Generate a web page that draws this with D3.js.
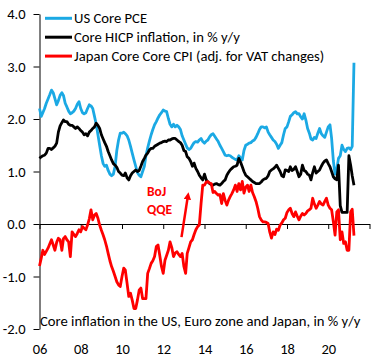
<!DOCTYPE html>
<html lang="en">
<head>
	<meta charset="UTF-8">
	<title>Core inflation US / Euro zone / Japan</title>
	<script src="https://cdn.jsdelivr.net/npm/d3@7/dist/d3.min.js"></script>
	<style>
		body { margin: 0; background: #fff; }
		svg text { font-family: Carlito, Calibri, Lato, sans-serif; fill: #000; }
	</style>
</head>
<body>
	<svg id="chart" width="384" height="360"></svg>
<script>
// monthly, Jan 2006 .. Apr 2021
var startMonth = new Date(2006, 0, 1);

var usCorePce = [
	2.20, 2.05, 2.12, 2.20, 2.30, 2.38, 2.46, 2.55, 2.50, 2.39, 2.27, 2.35,
	2.45, 2.50, 2.45, 2.30, 2.23, 2.15, 2.10, 2.12, 2.15, 2.20, 2.28, 2.33,
	2.20, 2.12, 2.10, 2.12, 2.20, 2.27, 2.25, 2.20, 2.05, 1.90, 1.70, 1.50,
	1.30, 1.15, 1.10, 1.12, 1.02, 0.95, 0.92, 0.95, 1.10, 1.40, 1.60, 1.73,
	1.73, 1.75, 1.72, 1.68, 1.60, 1.48, 1.35, 1.22, 1.10, 0.98, 0.93, 0.90,
	1.00, 1.10, 1.30, 1.45, 1.58, 1.70, 1.80, 1.89, 1.95, 2.02, 2.08, 2.12,
	2.17, 2.15, 2.14, 2.01, 1.90, 1.85, 1.90, 1.85, 1.88, 1.85, 1.80, 1.68,
	1.60, 1.52, 1.45, 1.42, 1.44, 1.50, 1.55, 1.57, 1.56, 1.60, 1.63, 1.57,
	1.54, 1.58, 1.60, 1.66, 1.70, 1.72, 1.67, 1.62, 1.57, 1.50, 1.44, 1.38,
	1.31, 1.30, 1.31, 1.30, 1.27, 1.25, 1.23, 1.22, 1.30, 1.26, 1.22, 1.40,
	1.50, 1.52, 1.54, 1.55, 1.58, 1.60, 1.65, 1.72, 1.80, 1.85, 1.85, 1.83,
	1.85, 1.75, 1.70, 1.65, 1.60, 1.57, 1.52, 1.44, 1.50, 1.55, 1.70, 1.82,
	1.85, 1.95, 2.05, 2.08, 2.12, 2.14, 2.10, 2.10, 2.04, 2.00, 2.10, 1.98,
	1.82, 1.73, 1.62, 1.60, 1.65, 1.63, 1.73, 1.82, 1.72, 1.68, 1.65, 1.75,
	1.85, 1.89, 1.63, 1.20, 0.95, 1.05, 1.25, 1.30, 1.50, 1.42, 1.38, 1.44,
	1.45, 1.42, 1.48, 3.07
];

var coreHicp = [
	1.25, 1.28, 1.30, 1.31, 1.35, 1.44, 1.44, 1.42, 1.45, 1.48, 1.54, 1.75,
	1.87, 1.93, 1.98, 1.95, 1.95, 1.90, 1.88, 1.88, 1.85, 1.82, 1.85, 1.82,
	1.78, 1.75, 1.70, 1.72, 1.68, 1.75, 1.78, 1.82, 1.85, 1.92, 1.88, 1.82,
	1.70, 1.62, 1.55, 1.48, 1.38, 1.30, 1.22, 1.15, 1.12, 1.08, 1.00, 0.97,
	0.93, 0.92, 0.97, 0.88, 0.84, 0.92, 0.97, 1.00, 1.03, 1.00, 1.02, 1.10,
	1.19, 1.25, 1.31, 1.35, 1.41, 1.44, 1.44, 1.48, 1.50, 1.52, 1.54, 1.55,
	1.57, 1.58, 1.57, 1.60, 1.60, 1.62, 1.63, 1.63, 1.60, 1.57, 1.55, 1.50,
	1.40, 1.38, 1.28, 1.25, 1.19, 1.10, 1.16, 1.06, 1.00, 0.93, 0.88, 0.84,
	0.95, 0.84, 0.80, 0.77, 0.75, 0.74, 0.76, 0.77, 0.75, 0.74, 0.77, 0.81,
	0.84, 0.93, 0.98, 1.03, 1.06, 1.09, 1.10, 1.12, 1.25, 1.18, 1.09, 1.00,
	0.93, 0.90, 0.87, 0.84, 0.81, 0.79, 0.77, 0.77, 0.77, 0.80, 0.84, 0.86,
	0.87, 0.92, 1.00, 1.03, 1.05, 1.08, 1.12, 1.06, 1.00, 0.92, 0.90, 1.03,
	1.02, 1.00, 1.09, 1.02, 1.04, 1.09, 1.00, 0.90, 0.95, 1.12, 1.02, 1.00,
	0.95, 0.93, 0.84, 0.98, 1.09, 0.97, 1.00, 1.03, 1.10, 1.16, 1.20, 1.22,
	1.15, 1.09, 1.00, 0.90, 0.86, 0.84, 1.12, 0.35, 0.22, 0.22, 0.22, 0.22,
	1.30, 1.12, 0.92, 0.74
];

var japanCoreCore = [
	-0.80, -0.65, -0.50, -0.58, -0.52, -0.46, -0.38, -0.30, -0.40, -0.50, -0.35, -0.27,
	-0.30, -0.50, -0.28, -0.24, -0.30, -0.34, -0.62, -0.15, -0.20, -0.24, -0.18, -0.11,
	-0.15, -0.05, -0.08, -0.11, -0.02, 0.10, 0.27, 0.08, 0.17, 0.20, 0.11, -0.02,
	-0.12, -0.21, -0.30, -0.42, -0.56, -0.70, -0.81, -0.90, -1.00, -1.10, -1.16, -1.19,
	-1.00, -0.84, -0.88, -1.13, -1.38, -1.32, -1.45, -1.61, -1.61, -1.45, -1.26, -1.22,
	-1.42, -1.42, -1.42, -0.94, -0.85, -0.75, -0.70, -0.62, -0.43, -0.40, -0.60, -0.81,
	-0.94, -0.69, -0.60, -0.50, -0.34, -0.45, -0.62, -0.55, -0.53, -0.58, -0.62, -0.56,
	-0.81, -0.94, -0.56, -0.45, -0.34, -0.30, -0.20, -0.11, -0.05, -0.02, 0.39, 0.74,
	0.74, 0.80, 0.81, 0.78, 0.77, 0.60, 0.62, 0.58, 0.55, 0.56, 0.39, 0.58,
	0.45, 0.36, 0.45, 0.52, 0.58, 0.65, 0.74, 0.62, 0.77, 0.65, 0.81, 0.59,
	0.70, 0.74, 0.62, 0.74, 0.60, 0.52, 0.43, 0.30, 0.14, 0.08, 0.04, 0.04,
	0.03, 0.01, -0.15, -0.27, -0.15, -0.20, -0.10, -0.12, -0.02, 0.02, 0.08, 0.11,
	0.22, 0.27, 0.30, 0.20, 0.14, 0.23, 0.15, 0.08, 0.15, 0.20, 0.17, 0.20,
	0.25, 0.27, 0.30, 0.49, 0.38, 0.30, 0.36, 0.43, 0.38, 0.36, 0.43, 0.49,
	0.36, 0.30, 0.27, 0.04, -0.21, 0.23, 0.27, -0.30, -0.15, -0.37, -0.34, -0.50,
	-0.50, 0.23, 0.28, -0.22
];

var seriesNames = ["US Core PCE", "Core HICP inflation, in % y/y", "Japan Core Core CPI (adj. for VAT changes)"];
var seriesColors = ["#1BA9E4", "#000000", "#FF0000"];
var yTicks = [-2, -1, 0, 1, 2, 3, 4];
var footnote = "Core inflation in the US, Euro zone and Japan, in % y/y";

// annotation, in data units: [date, value]
var qqeLabel = ["BoJ", "QQE"];
var qqeArrow = [[new Date(2012, 10, 20), -0.25], [new Date(2013, 2, 5), 0.48]];

var svg = d3.select("#chart");

var x = d3.scaleTime()
	.domain([new Date(2006, 0, 1), new Date(2022, 0, 1)])
	.range([39.5, 369.5]);
var y = d3.scaleLinear()
	.domain([-2, 4])
	.range([329, 14]);

function toRows(vals) {
	return vals.map(function(v, i) {
		return { date: d3.timeMonth.offset(startMonth, i), value: v };
	});
}
var series = [toRows(usCorePce), toRows(coreHicp), toRows(japanCoreCore)];

// y axis
var yAxis = svg.append("g")
	.attr("transform", "translate(39.5,0)")
	.call(d3.axisLeft(y)
		.tickValues(yTicks)
		.tickFormat(function(d){ return d.toFixed(1); })
		.tickSize(6)
		.tickSizeOuter(0)
		.tickPadding(8));
yAxis.selectAll("text").attr("font-size", 14.5).attr("font-family", null);

// x axis at zero, ticks only
svg.append("g")
	.attr("transform", "translate(0," + y(0) + ")")
	.call(d3.axisBottom(x)
		.ticks(d3.timeYear.every(2))
		.tickSize(5)
		.tickSizeOuter(0)
		.tickFormat(""));

// year labels at the bottom
var xLabels = svg.append("g")
	.attr("transform", "translate(0,339)")
	.call(d3.axisBottom(x)
		.tickValues(d3.timeYear.every(2).range(new Date(2006, 0, 1), new Date(2021, 0, 2)))
		.tickSize(0)
		.tickPadding(5)
		.tickFormat(d3.timeFormat("%y")));
xLabels.select(".domain").remove();
xLabels.selectAll("text").attr("font-size", 14.5).attr("font-family", null);

svg.selectAll(".domain, .tick line").attr("stroke", "#000");

// lines
var line = d3.line()
	.x(function(d){ return x(d.date); })
	.y(function(d){ return y(d.value); });

svg.selectAll(".series")
	.data(series)
	.enter()
	.append("path")
	.attr("class", "series")
	.attr("fill", "none")
	.attr("stroke", function(d, i){ return seriesColors[i]; })
	.attr("stroke-width", 2.8)
	.attr("stroke-linejoin", "round")
	.attr("d", line);

// legend
var legend = svg.selectAll(".legend")
	.data(seriesNames)
	.enter()
	.append("g")
	.attr("class", "legend")
	.attr("transform", function(d, i){ return "translate(45," + (18.3 + i * 18.9) + ")"; });
legend.append("line")
	.attr("x1", 0).attr("x2", 27)
	.attr("stroke", function(d, i){ return seriesColors[i]; })
	.attr("stroke-width", 3);
legend.append("text")
	.attr("x", 29)
	.attr("dy", "0.33em")
	.attr("font-size", 14.67)
	.text(function(d){ return d; });

// footnote
svg.append("text")
	.attr("x", 40)
	.attr("y", 326)
	.attr("font-size", 14.67)
	.text(footnote);

// BoJ QQE annotation
svg.selectAll(".qqe")
	.data(qqeLabel)
	.enter()
	.append("text")
	.attr("class", "qqe")
	.attr("x", x(new Date(2011, 2, 20)))
	.attr("y", function(d, i){ return y(0.53) + i * 18.3; })
	.attr("font-size", 13.5)
	.attr("font-weight", "bold")
	.style("fill", "#FF0000")
	.text(function(d){ return d; });

svg.append("defs").append("marker")
	.attr("id", "arrowhead")
	.attr("viewBox", "0 0 10 10")
	.attr("refX", 1).attr("refY", 5)
	.attr("markerWidth", 3).attr("markerHeight", 3)
	.attr("orient", "auto")
	.append("path")
	.attr("d", "M0,0L10,5L0,10z")
	.attr("fill", "#FF0000");

svg.append("line")
	.attr("x1", x(qqeArrow[0][0])).attr("y1", y(qqeArrow[0][1]))
	.attr("x2", x(qqeArrow[1][0])).attr("y2", y(qqeArrow[1][1]))
	.attr("stroke", "#FF0000")
	.attr("stroke-width", 2.5)
	.attr("marker-end", "url(#arrowhead)");
</script>
</body>
</html>
